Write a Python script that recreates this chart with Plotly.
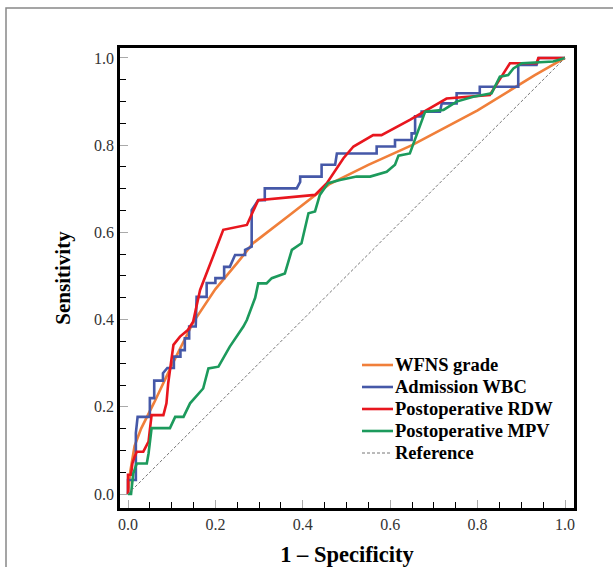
import plotly.graph_objects as go

# ---- data ----
wfns_x = [0.0, 0.005, 0.015, 0.03, 0.06, 0.10, 0.15, 0.20, 0.25, 0.286, 0.37, 0.46, 0.55, 0.65, 0.80, 0.93, 1.0]
wfns_y = [0.0, 0.05, 0.11, 0.15, 0.21, 0.295, 0.395, 0.47, 0.53, 0.575, 0.64, 0.71, 0.755, 0.80, 0.88, 0.96, 1.0]

wbc_x = [0.0, 0.0, 0.018, 0.018, 0.022, 0.05, 0.05, 0.06, 0.06, 0.08, 0.08, 0.09, 0.105, 0.105, 0.12, 0.12,
         0.13, 0.13, 0.14, 0.14, 0.155, 0.157, 0.18, 0.18, 0.2, 0.2, 0.22, 0.22, 0.233, 0.245, 0.268, 0.268,
         0.283, 0.283, 0.298, 0.313, 0.313, 0.386, 0.394, 0.394, 0.443, 0.443, 0.474, 0.478, 0.569, 0.569,
         0.611, 0.611, 0.649, 0.649, 0.657, 0.657, 0.672, 0.672, 0.714, 0.718, 0.752, 0.752, 0.805, 0.805,
         0.893, 0.893, 0.935, 0.94, 1.0]
wbc_y = [0.0, 0.032, 0.032, 0.14, 0.177, 0.177, 0.22, 0.22, 0.26, 0.26, 0.277, 0.289, 0.289, 0.315, 0.315, 0.33,
         0.33, 0.357, 0.357, 0.384, 0.384, 0.452, 0.452, 0.484, 0.484, 0.495, 0.495, 0.521, 0.521, 0.548, 0.548, 0.56,
         0.567, 0.651, 0.674, 0.674, 0.701, 0.701, 0.716, 0.728, 0.728, 0.755, 0.755, 0.781, 0.781, 0.797,
         0.797, 0.812, 0.812, 0.827, 0.827, 0.866, 0.866, 0.877, 0.877, 0.896, 0.896, 0.919, 0.919, 0.934,
         0.934, 0.984, 0.984, 1.0, 1.0]

rdw_x = [0.0, 0.0, 0.007, 0.01, 0.015, 0.02, 0.035, 0.047, 0.05, 0.054, 0.081, 0.088, 0.092, 0.104, 0.119,
         0.137, 0.149, 0.165, 0.199, 0.218, 0.272, 0.298, 0.428, 0.455, 0.493, 0.516, 0.561, 0.58, 0.645,
         0.729, 0.828, 0.855, 0.865, 0.874, 0.935, 0.939, 1.0]
rdw_y = [0.0, 0.044, 0.044, 0.07, 0.085, 0.097, 0.097, 0.12, 0.147, 0.181, 0.181, 0.208, 0.254, 0.342, 0.361,
         0.376, 0.395, 0.468, 0.556, 0.606, 0.617, 0.674, 0.686, 0.713, 0.77, 0.797, 0.823, 0.823, 0.858,
         0.907, 0.915, 0.957, 0.975, 0.988, 0.988, 1.0, 1.0]

mpv_x = [0.0, 0.007, 0.012, 0.02, 0.043, 0.047, 0.054, 0.096, 0.108, 0.127, 0.142, 0.172, 0.184, 0.207, 0.233,
         0.264, 0.272, 0.291, 0.298, 0.317, 0.329, 0.359, 0.375, 0.397, 0.413, 0.428, 0.439, 0.458, 0.485,
         0.523, 0.554, 0.592, 0.611, 0.619, 0.645, 0.661, 0.68, 0.722, 0.752, 0.79, 0.832, 0.851, 0.87,
         0.882, 0.901, 0.973, 1.0]
mpv_y = [0.0, 0.0, 0.047, 0.07, 0.07, 0.093, 0.151, 0.151, 0.177, 0.177, 0.208, 0.242, 0.288, 0.292, 0.338,
         0.384, 0.399, 0.45, 0.483, 0.483, 0.495, 0.506, 0.56, 0.575, 0.644, 0.648, 0.686, 0.713, 0.72,
         0.728, 0.728, 0.739, 0.755, 0.776, 0.781, 0.823, 0.877, 0.881, 0.9, 0.911, 0.919, 0.957, 0.961,
         0.976, 0.988, 0.992, 1.0]

ref_x = [0.0, 1.0]
ref_y = [0.0, 1.0]

names = ["WFNS grade", "Admission WBC", "Postoperative RDW", "Postoperative MPV", "Reference"]
colors = ["#F07F3A", "#4558A8", "#E8161E", "#1C9A5C", "#777777"]

# figure geometry (pixels)
W, H = 613, 567
ML, MR, MT, MB = 120, 39, 48, 59
PW, PH = W - ML - MR, H - MT - MB


def px_x(px):
    return (px - ML) / PW


def px_y(py):
    return (H - MB - py) / PH


fig = go.Figure()
series = [(wfns_x, wfns_y), (wbc_x, wbc_y), (rdw_x, rdw_y), (mpv_x, mpv_y)]
for (xs, ys), nm, col in zip(series, names[:4], colors[:4]):
    fig.add_trace(go.Scatter(x=xs, y=ys, mode="lines", name=nm, showlegend=False,
                             line=dict(color=col, width=2.6)))
fig.add_trace(go.Scatter(x=ref_x, y=ref_y, mode="lines", name=names[4], showlegend=False,
                         line=dict(color=colors[4], width=1, dash="3px,2px")))

serif = "Liberation Serif, Times New Roman, serif"

axis_common = dict(
    showgrid=False, zeroline=False, automargin=False,
    showline=True, linecolor="black", linewidth=2.5, mirror=True,
    ticks="inside", ticklen=8, tickcolor="#AAAAAA", tickwidth=1,
    dtick=0.2, tickformat=".1f",
    tickfont=dict(family=serif, size=16, color="#333333"),
    minor=dict(dtick=0.05, ticks="inside", ticklen=6, tickcolor="black", tickwidth=1.3),
)

fig.update_xaxes(range=[-0.0183, 1.0206], tick0=0,
                 title=dict(text="1 – Specificity", standoff=21,
                            font=dict(family=serif, size=22.5, color="black", weight="bold")),
                 **axis_common)
fig.update_yaxes(range=[-0.0321, 1.0229], tick0=0,
                 title=dict(text="Sensitivity", standoff=18,
                            font=dict(family=serif, size=21, color="black", weight="bold")),
                 **axis_common)

# legend drawn inside the plot (sample lines + text labels)
leg_rows = [365, 387, 409, 431, 453]
shapes = [dict(type="rect", xref="paper", yref="paper",
               x0=px_x(6), x1=px_x(625), y0=px_y(580), y1=px_y(8),
               line=dict(color="#888888", width=1.5), fillcolor="rgba(0,0,0,0)",
               layer="below")]
annotations = []
for i, (nm, col) in enumerate(zip(names, colors)):
    yy = px_y(leg_rows[i])
    if i < 4:
        shapes.append(dict(type="line", xref="paper", yref="paper",
                           x0=px_x(362), x1=px_x(393), y0=yy, y1=yy,
                           line=dict(color=col, width=2.6)))
    else:
        shapes.append(dict(type="line", xref="paper", yref="paper",
                           x0=px_x(362), x1=px_x(391), y0=yy, y1=yy,
                           line=dict(color=col, width=1, dash="3px,2px")))
    annotations.append(dict(text=nm, xref="paper", yref="paper", x=px_x(393), y=yy,
                            xanchor="left", yanchor="middle", showarrow=False,
                            font=dict(family=serif, size=18.5, color="black", weight="bold")))

fig.update_layout(
    width=W, height=H,
    margin=dict(l=ML, r=MR, t=MT, b=MB),
    paper_bgcolor="white", plot_bgcolor="white",
    showlegend=False,
    shapes=shapes,
    annotations=annotations,
)

fig.write_html("out.html", config={"displayModeBar": False},
               post_script="document.body.style.margin='0';document.body.style.overflow='hidden';")
